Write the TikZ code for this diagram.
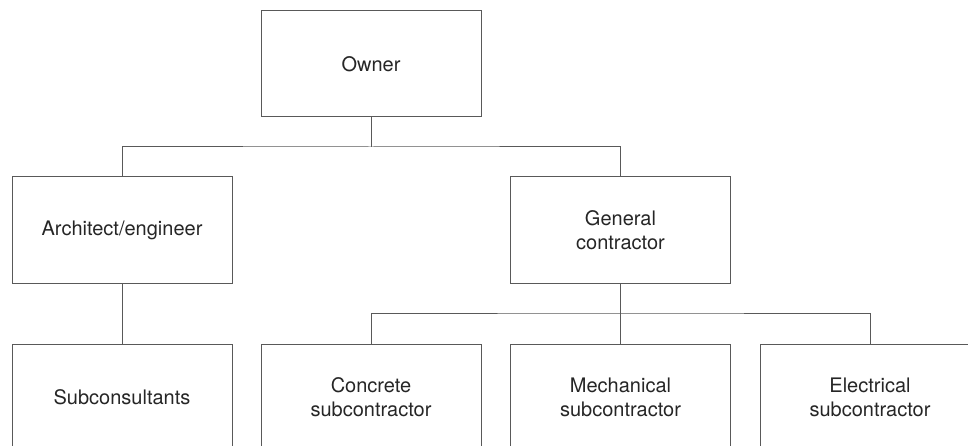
\documentclass[tikz,border=0pt]{standalone}
\usepackage{fontspec}
\setmainfont{TeX Gyre Heros}
\begin{document}
\begin{tikzpicture}[x=1pt,y=-1pt,
  orgbox/.style={draw=black!65, line width=1pt, minimum width=220pt, minimum height=106pt,
    inner sep=0pt, align=center, text=black!85, font=\fontsize{20}{24}\selectfont},
  link/.style={draw=black!65, line width=1pt}]
\clip (0,0) rectangle (968,446);
\fill[white] (0,0) rectangle (968,446);
\node[orgbox] (own) at (371,64) {Owner};
\node[orgbox] (arch) at (122,230) {Architect/engineer};
\node[orgbox] (gc) at (620.5,230) {General\\contractor};
\node[orgbox] (subc) at (122,397) {Subconsultants};
\node[orgbox] (conc) at (371,397) {Concrete\\subcontractor};
\node[orgbox] (mech) at (620.5,397) {Mechanical\\subcontractor};
\node[orgbox] (elec) at (870,397) {Electrical\\subcontractor};
\coordinate (j1) at (371,147);
\coordinate (j2) at (620.5,313);
\draw[link] (own.south) -- (j1);
\draw[link] (arch.north) |- (j1) -| (gc.north);
\draw[link] (arch.south) -- (subc.north);
\draw[link] (gc.south) -- (j2);
\draw[link] (conc.north) |- (j2) -| (elec.north);
\draw[link] (j2) -- (mech.north);
\end{tikzpicture}
\end{document}
